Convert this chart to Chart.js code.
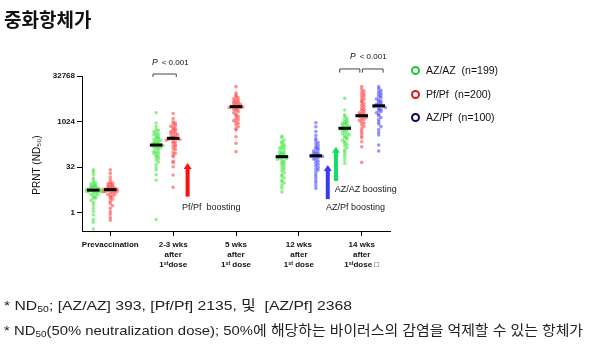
<!DOCTYPE html>
<html>
<head>
<meta charset="utf-8">
<script src="https://cdn.jsdelivr.net/npm/chart.js@4.4.0/dist/chart.umd.min.js"></script>
<style>
  body { margin: 0; width: 600px; height: 344px; position: relative; overflow: hidden; background: #fff; }
  #chart { position: absolute; left: 0; top: 0; }
  .title { position: absolute; left: 4px; top: 5px; font: bold 19px "Noto Sans CJK KR", sans-serif; color: #111; }
  .legend-item { position: absolute; left: 411px; font: 10.5px "Liberation Sans", Arial, sans-serif; color: #111; white-space: pre; }
  .legend-item span { display: inline-block; width: 5px; height: 5px; border: 2px solid; border-radius: 50%; margin-right: 6px; vertical-align: -1px; }
  .note { position: absolute; left: 4px; font: 13.5px "Liberation Sans", "Noto Sans CJK KR", sans-serif; color: #222; white-space: pre; transform-origin: 0 50%; }
  .note sub { font-size: 9px; vertical-align: -2px; }
</style>
</head>
<body>
<canvas id="chart" width="600" height="344"></canvas>
<div class="title">중화항체가</div>
<div id="legend"></div>
<div class="note" id="note1" style="top:294px">* ND<sub>50</sub>; [AZ/AZ] 393, [Pf/Pf] 2135, 및  [AZ/Pf] 2368</div>
<div class="note" id="note2" style="top:319px">* ND<sub>50</sub>(50% neutralization dose); 50%에 해당하는 바이러스의 감염을 억제할 수 있는 항체가</div>
<script>
// categories and x tick labels
const categories = ["Prevaccination", "2-3 wks", "5 wks", "12 wks", "14 wks"];
const tickLabels = [
  ["Prevaccination"],
  ["2-3 wks", "after", "1ˢᵗdose"],
  ["5 wks", "after", "1ˢᵗ dose"],
  ["12 wks", "after", "1ˢᵗ dose"],
  ["14 wks", "after", "1ˢᵗdose □"]
];
const yTicks = [1, 32, 1024, 32768];

const seriesNames = ["AZ/AZ", "Pf/Pf", "AZ/Pf"];
const seriesN = [199, 200, 100];

// PRNT (ND50) values
const azazPrevac = [26, 22, 18, 14, 12, 10, 9.5, 9, 8, 8, 7.5, 7, 7, 6.5, 6.5, 6, 6, 6, 5.5, 5.5, 5.5, 5, 5, 5, 5, 5, 4.5, 4.5, 4, 4, 3.5, 3.5, 3, 3, 2.6, 2.2, 1.8, 1.4, 1.1, 0.84, 0.6, 0.49, 0.29];
const azazWk2to3 = [2000, 920, 700, 560, 520, 480, 440, 400, 380, 350, 320, 300, 280, 260, 250, 240, 220, 210, 200, 190, 180, 175, 170, 165, 160, 150, 145, 140, 130, 120, 110, 100, 95, 90, 80, 75, 70, 62, 55, 48, 40, 32, 26, 18, 12, 0.6];
const azazWk12 = [342, 300, 252, 220, 200, 180, 160, 150, 140, 130, 120, 110, 100, 95, 90, 85, 80, 76, 72, 70, 68, 65, 62, 58, 55, 50, 46, 42, 38, 34, 30, 27, 24, 21, 18, 16, 14, 12, 10.5, 9.6, 8, 6.5, 4.9];
const azazWk14 = [6000, 2470, 1700, 1500, 1350, 1200, 1100, 1000, 950, 900, 850, 800, 760, 720, 680, 650, 620, 600, 580, 560, 540, 500, 460, 420, 400, 380, 350, 320, 300, 270, 250, 220, 200, 180, 160, 140, 120, 104, 85, 70, 55, 43];

const pfpfPrevac = [26, 20, 15, 12, 10, 9.5, 9, 8.5, 8, 7.5, 7, 7, 6.5, 6.5, 6, 6, 6, 5.5, 5.5, 5.5, 5, 5, 5, 5, 4.5, 4.5, 4, 4, 3.5, 3.5, 3, 2.8, 2.4, 2, 1.7, 1.4, 1.1, 0.9, 0.7, 0.57];
const pfpfWk2to3 = [1900, 1300, 1000, 920, 850, 780, 720, 660, 600, 560, 520, 480, 450, 420, 400, 380, 350, 330, 310, 300, 290, 285, 280, 270, 260, 250, 230, 220, 200, 180, 160, 150, 130, 120, 100, 90, 80, 71, 50, 45, 33, 17.6, 6.9];
const pfpfWk5 = [14600, 8900, 7500, 6800, 6200, 5800, 5400, 5000, 4700, 4400, 4200, 4000, 3800, 3600, 3400, 3300, 3200, 3150, 3100, 3000, 2900, 2800, 2600, 2400, 2200, 2000, 1800, 1600, 1500, 1300, 1200, 1100, 1000, 900, 800, 700, 600, 540, 324, 197, 104];
const pfpfWk14 = [14600, 12000, 10500, 9500, 8500, 7700, 7000, 6200, 5600, 5000, 4500, 4000, 3600, 3200, 2900, 2600, 2400, 2200, 2000, 1900, 1800, 1700, 1650, 1600, 1550, 1500, 1400, 1300, 1200, 1100, 1000, 900, 800, 700, 600, 500, 420, 350, 300, 221, 150, 46];

const azpfWk12 = [940, 694, 480, 360, 280, 240, 210, 190, 170, 150, 140, 130, 120, 110, 100, 95, 90, 85, 80, 78, 76, 74, 72, 68, 64, 60, 55, 50, 45, 40, 36, 32, 28, 26, 22, 18, 15, 12, 10, 8, 6.4];
const azpfWk14 = [14600, 12500, 11000, 9900, 9000, 8200, 7500, 6800, 6200, 5700, 5200, 4800, 4400, 4100, 3800, 3600, 3500, 3400, 3300, 3200, 3000, 2800, 2600, 2400, 2200, 2000, 1800, 1600, 1400, 1200, 1000, 850, 700, 560, 450, 370, 172, 109];

// geometric median bars, one per category (null = not measured)
const azazMedian = [5.6, 172, null, 71, 615];
const pfpfMedian = [5.8, 287, 3180, null, 1600];
const azpfMedian = [null, null, null, 76, 3400];

// annotations in (category, log2 value) units
const pBrackets = [
  { from: 0.68, to: 1.05, top: 15.22, foot: 14.9 },
  { from: 3.65, to: 3.97, top: 15.77, foot: 15.37 },
  { from: 4.01, to: 4.34, top: 15.77, foot: 15.37 }
];
const pTexts = [{ x: 0.85, y: 16.45 }, { x: 4.0, y: 17.1 }];
const boostArrows = [
  { x: 1.23, from: 1.77, to: 5.45, color: "#ff1010" },
  { x: 3.46, from: 1.5, to: 5.25, color: "#3a3af0" },
  { x: 3.59, from: 3.48, to: 7.25, color: "#10e060" }
];
const boostLabels = [
  { text: "Pf/Pf  boosting", x: 1.14, y: 0.6 },
  { text: "AZ/AZ boosting", x: 3.57, y: 2.5 },
  { text: "AZ/Pf boosting", x: 3.43, y: 0.6 }
];

const offsets = [-0.27, 0, 0.27];
const dotColors = ["rgba(40,225,40,0.5)", "rgba(255,40,40,0.5)", "rgba(50,50,255,0.5)"];
const legendColors = ["#22c832", "#e01818", "#0a0a5a"];

const groups = [
  [azazPrevac, azazWk2to3, null, azazWk12, azazWk14],
  [pfpfPrevac, pfpfWk2to3, pfpfWk5, null, pfpfWk14],
  [null, null, null, azpfWk12, azpfWk14]
];
const medians = [azazMedian, pfpfMedian, azpfMedian];

// simple beeswarm: spread points sideways when they share a value band
function swarm(values, center) {
  const bins = {};
  return values.map(v => {
    const y = Math.log2(v);
    const b = Math.round(y / 0.3);
    const k = bins[b] = (bins[b] || 0) + 1;
    const step = Math.floor(k / 2) * (k % 2 ? -1 : 1);
    return { x: center + step * 0.036, y: y };
  });
}

const datasets = [];
groups.forEach((row, s) => {
  row.forEach((vals, c) => {
    if (!vals) return;
    datasets.push({
      type: "scatter",
      data: swarm(vals, c + offsets[s]),
      backgroundColor: dotColors[s],
      borderWidth: 0,
      pointRadius: 1.8,
      order: 1
    });
  });
});
medians.forEach((row, s) => {
  row.forEach((m, c) => {
    if (m == null) return;
    const x = c + offsets[s];
    datasets.push({
      type: "line",
      data: [{ x: x - 0.1, y: Math.log2(m) }, { x: x + 0.1, y: Math.log2(m) }],
      borderColor: "#000",
      borderWidth: 3,
      pointRadius: 0,
      order: 0
    });
  });
});

const annotate = {
  id: "annotate",
  afterDatasetsDraw(chart) {
    const ctx = chart.ctx;
    const xs = chart.scales.x, ys = chart.scales.y;
    ctx.save();
    // brackets
    ctx.strokeStyle = "#444";
    ctx.lineWidth = 1;
    pBrackets.forEach(b => {
      const x1 = xs.getPixelForValue(b.from), x2 = xs.getPixelForValue(b.to);
      const t = ys.getPixelForValue(b.top), f = ys.getPixelForValue(b.foot);
      ctx.beginPath();
      ctx.moveTo(x1, f); ctx.lineTo(x1, t); ctx.lineTo(x2, t); ctx.lineTo(x2, f);
      ctx.stroke();
    });
    // P values
    ctx.fillStyle = "#111";
    ctx.textBaseline = "middle";
    pTexts.forEach(p => {
      const x = xs.getPixelForValue(p.x), y = ys.getPixelForValue(p.y);
      ctx.font = "italic 8.5px 'Liberation Sans', Arial";
      ctx.textAlign = "right";
      ctx.fillText("P", x - 6, y);
      ctx.font = "8px 'Liberation Sans', Arial";
      ctx.textAlign = "left";
      ctx.fillText("< 0.001", x - 2, y);
    });
    // arrows
    boostArrows.forEach(a => {
      const x = xs.getPixelForValue(a.x);
      const y0 = ys.getPixelForValue(a.from), y1 = ys.getPixelForValue(a.to);
      ctx.fillStyle = a.color;
      ctx.fillRect(x - 2, y1 + 5, 4, y0 - y1 - 5);
      ctx.beginPath();
      ctx.moveTo(x - 4, y1 + 6); ctx.lineTo(x + 4, y1 + 6); ctx.lineTo(x, y1);
      ctx.closePath();
      ctx.fill();
    });
    ctx.fillStyle = "#222";
    ctx.font = "9px 'Liberation Sans', Arial";
    ctx.textAlign = "left";
    boostLabels.forEach(l => {
      ctx.fillText(l.text, xs.getPixelForValue(l.x), ys.getPixelForValue(l.y));
    });
    // y axis title
    ctx.translate(37, 165);
    ctx.rotate(-Math.PI / 2);
    ctx.textAlign = "center";
    ctx.fillStyle = "#111";
    ctx.font = "10px 'Liberation Sans', Arial";
    ctx.fillText("PRNT (ND₅₀)", 0, 0);
    ctx.restore();
  }
};

new Chart(document.getElementById("chart"), {
  type: "scatter",
  data: { datasets: datasets },
  options: {
    responsive: false,
    animation: false,
    layout: { padding: { left: 0, top: 76, right: 210, bottom: 73 } },
    plugins: { legend: { display: false }, tooltip: { enabled: false } },
    scales: {
      x: {
        type: "linear",
        min: -0.45,
        max: 4.45,
        afterBuildTicks: s => { s.ticks = categories.map((c, i) => ({ value: i })); },
        afterFit: s => { s.height = 40; },
        grid: { drawOnChartArea: false, color: "#000", tickLength: 5 },
        border: { color: "#000" },
        ticks: {
          padding: 4,
          maxRotation: 0,
          color: "#111",
          font: { family: "'Liberation Sans', Arial", size: 8, weight: "bold", lineHeight: 1.25 },
          callback: v => tickLabels[v]
        }
      },
      y: {
        type: "linear",
        min: -2,
        max: 15,
        afterBuildTicks: s => { s.ticks = yTicks.map(t => ({ value: Math.log2(t) })); },
        afterFit: s => { s.width = 82; },
        grid: { drawOnChartArea: false, color: "#000", tickLength: 5 },
        border: { color: "#000" },
        ticks: {
          padding: 2,
          color: "#111",
          font: { family: "'Liberation Sans', Arial", size: 8, weight: "bold" },
          callback: v => String(Math.round(Math.pow(2, v)))
        }
      }
    }
  },
  plugins: [annotate]
});

// legend from series names
const legend = document.getElementById("legend");
seriesNames.forEach((name, i) => {
  const d = document.createElement("div");
  d.className = "legend-item";
  d.style.top = (64 + i * 23.5) + "px";
  d.innerHTML = '<span style="border-color:' + legendColors[i] + '"></span>' + name + "  (n=" + seriesN[i] + ")";
  legend.appendChild(d);
});

// squeeze footnotes to the reference widths
[["note1", 348], ["note2", 579]].forEach(([id, w]) => {
  const el = document.getElementById(id);
  el.style.transform = "scaleX(" + (w / el.getBoundingClientRect().width) + ")";
});
</script>
</body>
</html>
